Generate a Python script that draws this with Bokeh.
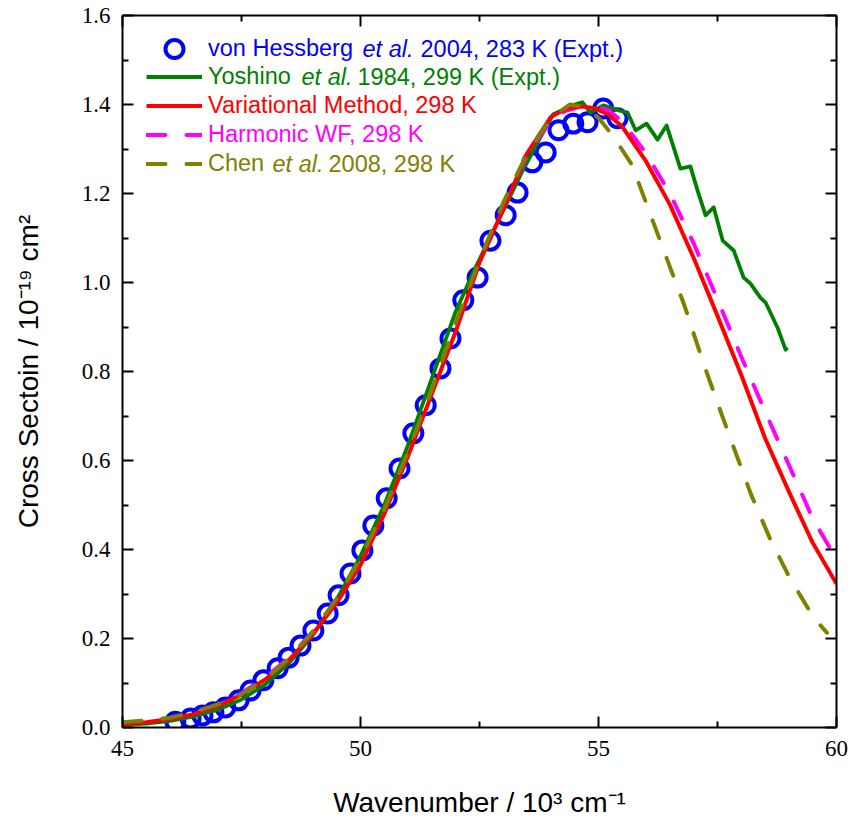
from bokeh.plotting import figure
from bokeh.models import Range1d, LinearAxis, FixedTicker, Label, Legend, LegendItem, NumeralTickFormatter
from bokeh.embed import file_html
from bokeh.resources import INLINE

# ---------------- data ----------------
hess_x = [46.11, 46.43, 46.68, 46.91, 47.16, 47.44, 47.69, 47.96, 48.26, 48.49, 48.74, 49.01,
          49.31, 49.54, 49.79, 50.04, 50.27, 50.55, 50.82, 51.11, 51.37, 51.68, 51.89, 52.16,
          52.46, 52.73, 53.05, 53.30, 53.61, 53.89, 54.16, 54.47, 54.77, 55.10, 55.40]
hess_y = [0.013, 0.020, 0.027, 0.034, 0.045, 0.061, 0.083, 0.106, 0.133, 0.157, 0.184, 0.218,
          0.256, 0.297, 0.346, 0.398, 0.454, 0.515, 0.582, 0.661, 0.724, 0.807, 0.874, 0.960,
          1.011, 1.094, 1.151, 1.202, 1.270, 1.292, 1.342, 1.357, 1.360, 1.391, 1.369]

yosh_x = [45.0, 45.5, 46.0, 46.5, 47.0, 47.5, 48.0, 48.5, 49.0, 49.5, 50.0, 50.5, 51.0, 51.5,
          52.0, 52.4, 52.8, 53.1, 53.4, 53.8, 54.05, 54.3, 54.5, 54.66, 54.83, 55.1, 55.42,
          55.61, 55.78, 56.01, 56.24, 56.43, 56.58, 56.72, 56.93, 57.08, 57.25, 57.42, 57.61,
          57.84, 58.05, 58.19, 58.4, 58.51, 58.76, 58.93, 58.97]
yosh_y = [0.006, 0.009, 0.015, 0.025, 0.040, 0.063, 0.097, 0.145, 0.208, 0.288, 0.385, 0.500,
          0.635, 0.785, 0.935, 1.030, 1.118, 1.184, 1.250, 1.330, 1.378, 1.390, 1.400, 1.405,
          1.382, 1.398, 1.387, 1.382, 1.342, 1.357, 1.321, 1.353, 1.303, 1.256, 1.261, 1.207,
          1.151, 1.169, 1.094, 1.072, 1.011, 0.998, 0.966, 0.955, 0.899, 0.849, 0.854]

var_x = [45.0, 45.5, 46.0, 46.5, 47.0, 47.5, 48.0, 48.5, 49.0, 49.5, 50.0, 50.5, 51.0, 51.5,
         52.0, 52.5, 53.0, 53.5, 54.0, 54.3, 54.6, 54.9, 55.2, 55.5, 56.0, 56.5, 57.0, 57.5,
         58.0, 58.5, 59.0, 59.5, 60.0]
var_y = [0.008, 0.012, 0.019, 0.030, 0.048, 0.074, 0.108, 0.152, 0.210, 0.280, 0.365, 0.480,
         0.610, 0.750, 0.890, 1.045, 1.165, 1.290, 1.372, 1.390, 1.396, 1.392, 1.378, 1.350,
         1.272, 1.175, 1.055, 0.925, 0.792, 0.650, 0.530, 0.415, 0.323]

harm_x = [45.0, 45.5, 46.0, 46.5, 47.0, 47.5, 48.0, 48.5, 49.0, 49.5, 50.0, 50.5, 51.0, 51.5,
          52.0, 52.5, 53.0, 53.5, 54.0, 54.3, 54.6, 54.9, 55.2, 55.5, 56.0, 56.5, 57.0, 57.5,
          58.0, 58.5, 59.0, 59.5, 60.0]
harm_y = [0.009, 0.013, 0.020, 0.032, 0.050, 0.077, 0.112, 0.157, 0.216, 0.287, 0.375, 0.487,
          0.615, 0.755, 0.893, 1.045, 1.165, 1.285, 1.365, 1.385, 1.395, 1.397, 1.388, 1.362,
          1.290, 1.200, 1.088, 0.962, 0.833, 0.710, 0.590, 0.470, 0.378]

chen_x = [45.0, 45.5, 46.0, 46.5, 47.0, 47.5, 48.0, 48.5, 49.0, 49.5, 50.0, 50.5, 51.0, 51.5,
          52.0, 52.5, 53.0, 53.5, 54.0, 54.4, 54.7, 55.0, 55.3, 55.7, 56.1, 56.5, 56.8, 57.2,
          57.6, 57.9, 58.2, 58.6, 59.0, 59.5, 59.8]
chen_y = [0.012, 0.016, 0.022, 0.035, 0.052, 0.075, 0.108, 0.155, 0.215, 0.290, 0.380, 0.490,
          0.620, 0.760, 0.910, 1.050, 1.180, 1.290, 1.370, 1.400, 1.395, 1.370, 1.330, 1.265,
          1.150, 1.035, 0.950, 0.820, 0.700, 0.612, 0.525, 0.425, 0.340, 0.250, 0.213]

x_major = [45, 50, 55, 60]
x_minor = [47.5, 52.5, 57.5]
y_major = [0.0, 0.2, 0.4, 0.6, 0.8, 1.0, 1.2, 1.4, 1.6]
y_minor = [0.1, 0.3, 0.5, 0.7, 0.9, 1.1, 1.3, 1.5]

x_title = "Wavenumber / 10\u00b3 cm\u207b\u00b9"
y_title = "Cross Sectoin / 10\u207b\u00b9\u2079 cm\u00b2"

legend_texts = [
    [("von Hessberg", "normal", 208), ("et al.", "italic", 362), ("2004, 283 K (Expt.)", "normal", 420)],
    [("Yoshino", "normal", 208), ("et al.", "italic", 301), ("1984, 299 K (Expt.)", "normal", 357)],
    [("Variational Method, 298 K", "normal", 208)],
    [("Harmonic WF, 298 K", "normal", 208)],
    [("Chen", "normal", 208), ("et al.", "italic", 272), ("2008, 298 K", "normal", 328)],
]
colors = ["#0000FF", "#008000", "#FF0000", "#FF00FF", "#808000"]

# ---------------- figure ----------------
FL, FT, FB = 122, 15, 727  # frame left/top/bottom in page pixels
FONT_SANS = "Liberation Sans"
FONT_SERIF = "Liberation Serif"

p = figure(width=848, height=828, x_range=Range1d(45, 60), y_range=Range1d(0, 1.6),
           output_backend="svg", toolbar_location=None,
           min_border_left=FL, min_border_right=12, min_border_top=FT, min_border_bottom=101)
p.xgrid.visible = False
p.ygrid.visible = False
p.outline_line_color = None
p.background_fill_color = "white"
p.border_fill_color = "white"

def style_axis(ax, show, standoff=12):
    ax.axis_line_width = 2
    ax.axis_line_color = "black"
    ax.major_tick_in = 11
    ax.major_tick_out = 0
    ax.minor_tick_in = 6
    ax.minor_tick_out = 0
    ax.major_tick_line_width = 2
    ax.minor_tick_line_width = 2
    ax.major_label_text_font = FONT_SERIF
    ax.major_label_text_color = "black"
    if show:
        ax.major_label_text_font_size = "23px"
        ax.major_label_standoff = standoff
    else:
        ax.major_label_text_font_size = "1px"
        ax.major_label_text_alpha = 0
        ax.major_label_standoff = 0

p.xaxis[0].ticker = FixedTicker(ticks=x_major, minor_ticks=x_minor)
p.yaxis[0].ticker = FixedTicker(ticks=y_major, minor_ticks=y_minor)
p.xaxis[0].formatter = NumeralTickFormatter(format="0")
p.yaxis[0].formatter = NumeralTickFormatter(format="0.0")
style_axis(p.xaxis[0], True, 13)
style_axis(p.yaxis[0], True, 12)

for ax, title, standoff in ((p.xaxis[0], x_title, 28), (p.yaxis[0], y_title, 35)):
    ax.axis_label = title
    ax.axis_label_text_font = FONT_SANS
    ax.axis_label_text_font_size = "28px"
    ax.axis_label_text_font_style = "normal"
    ax.axis_label_text_color = "black"
    ax.axis_label_standoff = standoff

top_ax = LinearAxis(ticker=FixedTicker(ticks=x_major, minor_ticks=x_minor))
right_ax = LinearAxis(ticker=FixedTicker(ticks=y_major, minor_ticks=y_minor))
style_axis(top_ax, False)
style_axis(right_ax, False)
p.add_layout(top_ax, "above")
p.add_layout(right_ax, "right")

# ---------------- data glyphs ----------------
r_hess = p.scatter(hess_x, hess_y, marker="circle", size=18, fill_color=None,
                   line_color=colors[0], line_width=4)
r_yosh = p.line(yosh_x, yosh_y, line_color=colors[1], line_width=3.8, line_join="round")
r_harm = p.line(harm_x, harm_y, line_color=colors[3], line_width=4, line_dash="19 21", line_cap="round")
r_var = p.line(var_x, var_y, line_color=colors[2], line_width=4, line_join="round")
r_chen = p.line(chen_x, chen_y, line_color=colors[4], line_width=4, line_dash="19 21", line_cap="round")

# ---------------- legend ----------------
renderers = [r_hess, r_yosh, r_var, r_harm, r_chen]
row_centers = [48, 76, 105, 134, 163]
row_heights = [45, 29, 29, 29, 29]

for i, rend in enumerate(renderers):
    segs = legend_texts[i]
    c, h = row_centers[i], row_heights[i]
    bottom = c + h / 2
    lg = Legend(items=[LegendItem(label=segs[0][0], renderers=[rend])],
                location=(146 - FL, FB - bottom), orientation="vertical",
                glyph_width=56, glyph_height=h, label_height=h, label_width=10,
                spacing=0, padding=0, margin=0, label_standoff=6,
                label_text_font=FONT_SANS, label_text_font_size="23.5px",
                label_text_color=colors[i], label_text_baseline="middle",
                background_fill_alpha=0, border_line_alpha=0)
    p.add_layout(lg)
    for text, style, px in segs[1:]:
        p.add_layout(Label(x=px - FL, y=FB - c, x_units="screen", y_units="screen",
                           text=text, text_font=FONT_SANS, text_font_size="23.5px",
                           text_font_style=style, text_color=colors[i],
                           text_baseline="middle", text_align="left"))

open("out.html", "w").write(file_html(p, INLINE))
